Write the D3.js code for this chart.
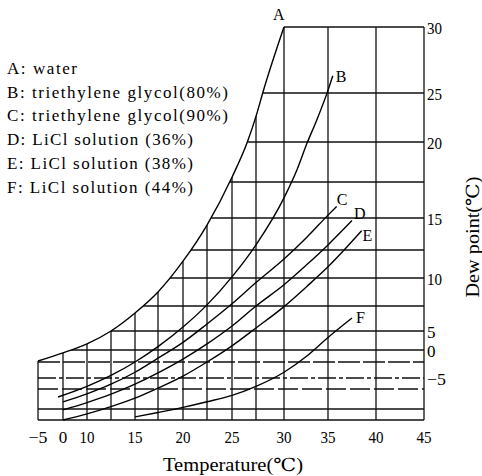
<!DOCTYPE html>
<html><head><meta charset="utf-8">
<script src="https://cdn.jsdelivr.net/npm/d3@7"></script>
<style>html,body{margin:0;padding:0;background:#fff;} svg{display:block;}</style>
</head><body><svg id="c" width="482" height="476"></svg>
<script>
// ---- data ----
const tempGrid = [-5, 0, 10, 12.5, 15, 17.5, 20, 22.5, 25, 27.5, 30, 35, 40, 45];
const dewGrid = [30, 25, 20, 17.5, 15, 12.5, 10, 7.5, 5, 0, -2.5, -5, -7.5, -10, -12.5];
const tempTicks = [-5, 0, 10, 15, 20, 25, 30, 35, 40, 45];
const dewTicks = [30, 25, 20, 15, 10, 5, 0, -5];

const seriesKeys = ["A", "B", "C", "D", "E", "F"];
const legendLabels = ["A: water", "B: triethylene glycol(80%)", "C: triethylene glycol(90%)",
  "D: LiCl solution (36%)", "E: LiCl solution (38%)", "F: LiCl solution (44%)"];

const waterT   = [-5, 0, 10, 12.5, 15, 17.5, 20, 22.5, 25, 26.6, 27.6, 28.1, 30];
const waterDew = [-2.3, -0.6, 1.6, 5, 6.8, 8.75, 11.5, 14.45, 17.8, 20, 23, 25, 30];
const teg80T   = [-1, 10, 12.5, 15, 17.5, 20, 22.5, 25, 27.5, 30, 31.5, 32.6, 33.75, 35, 35.5];
const teg80Dew = [-8.5, -6.9, -4.6, -2.5, 0.9, 5.4, 7.6, 10.1, 12.9, 16.4, 18.3, 19.9, 22.3, 25.2, 26.3];
const teg90T   = [0, 10, 12.5, 15, 17.5, 20, 22.5, 25, 27.5, 30, 32.6, 35, 35.9];
const teg90Dew = [-9.1, -8.1, -6.4, -4.1, -1.7, 2.0, 5.7, 7.7, 9.6, 11.7, 13.5, 15.2, 15.8];
const licl36T   = [0, 10, 12.5, 15, 17.5, 20, 22.5, 25, 27.5, 30, 32.6, 35, 37.5];
const licl36Dew = [-10.2, -9.2, -8.15, -6.4, -4.2, -1.9, 1.6, 5.5, 7.5, 9.4, 11.2, 12.9, 14.8];
const licl38T   = [0, 10, 12.5, 15, 17.5, 20, 22.5, 25, 27.5, 30, 32.6, 35, 38.5];
const licl38Dew = [-12.5, -11.1, -9.7, -8.65, -7.3, -4.7, -2.5, 1.1, 5.3, 7.44, 9.25, 11.0, 14.0];
const licl44T   = [15, 17.5, 20, 22.5, 25, 27.5, 30, 32.6, 35, 37.5];
const licl44Dew = [-11.8, -10.8, -9.8, -9.1, -8.3, -6.9, -4.1, -1.25, 3.3, 6.3];

// ---- layout ----
const W = 482, H = 476;
const FONT = "'Liberation Serif','DejaVu Serif',serif";
const x = d3.scaleLinear().domain(tempGrid)
  .range([38, 63, 87, 111, 135, 158, 183, 207, 232, 256, 284, 328, 376, 424]);
const y = d3.scaleLinear().domain(dewGrid)
  .range([27, 93, 142, 182, 218, 250, 278, 306, 331, 350, 362, 378, 389, 409, 420]);

const svg = d3.select("#c");
svg.append("rect").attr("width", W).attr("height", H).attr("fill", "#fff");

const zip = (a, b) => a.map((v, i) => [v, b[i]]);
const series = [
  zip(waterT, waterDew), zip(teg80T, teg80Dew), zip(teg90T, teg90Dew),
  zip(licl36T, licl36Dew), zip(licl38T, licl38Dew), zip(licl44T, licl44Dew)
];
const line = d3.line().x(d => x(d[0])).y(d => y(d[1])).curve(d3.curveMonotoneX);

// clip region: right of / below curve A
const tMin = tempGrid[0], tMax = tempGrid[tempGrid.length - 1];
const dMin = dewGrid[dewGrid.length - 1], dMax = dewGrid[0];
const A = series[0];
const last = A[A.length - 1];
const clipD = line(A) +
  `L${x(last[0])},${y(dMax) - 3}L${x(tMax) + 3},${y(dMax) - 3}` +
  `L${x(tMax) + 3},${y(dMin) + 3}L${x(tMin) - 3},${y(dMin) + 3}` +
  `L${x(tMin) - 3},${y(A[0][1])}Z`;
svg.append("defs").append("clipPath").attr("id", "clipA")
  .append("path").attr("d", clipD);

const grid = svg.append("g").attr("clip-path", "url(#clipA)")
  .attr("stroke", "#111").attr("stroke-width", 1.3).attr("fill", "none");
grid.selectAll("line.v").data(tempGrid).join("line").attr("class", "v")
  .attr("x1", d => x(d)).attr("x2", d => x(d))
  .attr("y1", y(dMin)).attr("y2", y(dMax));
const dashMap = new Map([[-2.5, "22,3"], [-5, "18,3,4,3"], [-7.5, "20,4"]]);
grid.selectAll("line.h").data(dewGrid).join("line").attr("class", "h")
  .attr("x1", x(tMin)).attr("x2", x(tMax))
  .attr("y1", d => y(d)).attr("y2", d => y(d))
  .attr("stroke-dasharray", d => dashMap.get(d) || null);

// curves
svg.append("g").selectAll("path").data(series).join("path")
  .attr("d", line).attr("fill", "none").attr("stroke", "#000").attr("stroke-width", 1.4);

// curve labels
const labelOff = [[-11, -7], [3, 6], [0, -1], [2, -2], [1, 10], [4, 5]];
svg.append("g").selectAll("text").data(series).join("text")
  .attr("x", (d, i) => x(d[d.length - 1][0]) + labelOff[i][0])
  .attr("y", (d, i) => y(d[d.length - 1][1]) + labelOff[i][1])
  .attr("font-family", FONT).attr("font-size", 16).attr("fill", "#000")
  .text((d, i) => seriesKeys[i]);

// legend
const legendLen = [70, 221, 221, 186, 186, 186];
svg.append("g").selectAll("text").data(legendLabels).join("text")
  .attr("x", 7).attr("y", (d, i) => 74 + i * 23.7)
  .attr("font-family", FONT).attr("font-size", 17).attr("fill", "#000")
  .attr("textLength", (d, i) => legendLen[i]).attr("lengthAdjust", "spacing")
  .text(d => d);

// x tick labels
const fmt = v => (v < 0 ? "\u2212" + Math.abs(v) : String(v));
svg.append("g").selectAll("text").data(tempTicks).join("text")
  .attr("x", d => x(d)).attr("y", 443).attr("text-anchor", "middle")
  .attr("font-family", FONT).attr("font-size", 17).attr("fill", "#000")
  .attr("textLength", d => fmt(d).length > 1 ? (d < 0 ? 19 : 15) : null)
  .attr("lengthAdjust", "spacingAndGlyphs")
  .text(fmt);

// y tick labels (right)
svg.append("g").selectAll("text").data(dewTicks).join("text")
  .attr("x", 427).attr("y", d => y(d) + 1).attr("dy", "0.35em")
  .attr("font-family", FONT).attr("font-size", 17).attr("fill", "#000")
  .attr("textLength", d => fmt(d).length > 1 ? (d < 0 ? 19 : 15) : null)
  .attr("lengthAdjust", "spacingAndGlyphs")
  .text(fmt);

// axis titles
svg.append("text").attr("x", 233).attr("y", 471).attr("text-anchor", "middle")
  .attr("font-family", FONT).attr("font-size", 18).attr("fill", "#000")
  .attr("textLength", 140).attr("lengthAdjust", "spacingAndGlyphs")
  .text("Temperature(\u2103)");
svg.append("text").attr("transform", "translate(479,237) rotate(-90)")
  .attr("text-anchor", "middle")
  .attr("font-family", FONT).attr("font-size", 18).attr("fill", "#000")
  .attr("textLength", 121).attr("lengthAdjust", "spacingAndGlyphs")
  .text("Dew point(\u2103)");
</script></body></html>
